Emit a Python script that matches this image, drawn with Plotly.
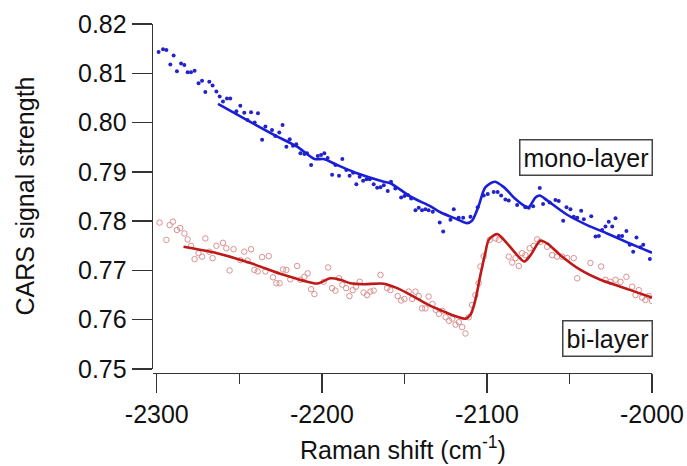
import plotly.graph_objects as go

# ---------------- data ----------------
mono_x = [-2298.9, -2296.2, -2294.2, -2291.8, -2289.8, -2287.8, -2285.3, -2283.3, -2281.3, -2279.3,
          -2277.1, -2274.7, -2272.6, -2270.6, -2268.2, -2266.2, -2263.9, -2261.9, -2259.9, -2257.5,
          -2255.5, -2251.8, -2249.4, -2247.0, -2245.0, -2242.9, -2240.7, -2238.7, -2236.2, -2234.2,
          -2230.2, -2228.2, -2225.8, -2223.8, -2221.5, -2219.5, -2217.5, -2215.5, -2213.0, -2210.6,
          -2209.0, -2206.5, -2202.5, -2200.5, -2198.5, -2196.5, -2193.8, -2191.8, -2189.6, -2187.6,
          -2185.2, -2183.2, -2181.1, -2179.1, -2177.1, -2175.0, -2173.0, -2171.0, -2168.6, -2166.5,
          -2164.5, -2162.5, -2160.1, -2158.1, -2155.5, -2152.0, -2150.0, -2148.0, -2145.9, -2143.3,
          -2141.3, -2139.3, -2137.3, -2135.3, -2132.8, -2128.6, -2126.5, -2122.1, -2120.1, -2117.1,
          -2114.4, -2110.0, -2105.6, -2101.9, -2099.5, -2095.9, -2093.5, -2091.4, -2088.8, -2086.8,
          -2081.7, -2076.7, -2074.7, -2072.0, -2068.0, -2066.0, -2062.0, -2058.5, -2056.5, -2053.8,
          -2051.8, -2049.4, -2047.4, -2045.3, -2042.9, -2041.3, -2036.8, -2034.2, -2032.2, -2030.2,
          -2028.2, -2026.2, -2024.1, -2022.1, -2020.1, -2018.1, -2015.5, -2013.5, -2011.4, -2009.4,
          -2007.0, -2005.3, -2001.3]
mono_y = [0.8143, 0.8149, 0.8147, 0.8118, 0.8136, 0.8104, 0.8120, 0.8117, 0.8102, 0.8102,
          0.8105, 0.8080, 0.8085, 0.8062, 0.8083, 0.8075, 0.8063, 0.8053, 0.8043, 0.8049,
          0.8049, 0.8023, 0.8034, 0.8020, 0.8005, 0.8021, 0.8000, 0.8019, 0.7965, 0.7992,
          0.7985, 0.7973, 0.7980, 0.7995, 0.7951, 0.7966, 0.7953, 0.7956, 0.7938, 0.7936,
          0.7938, 0.7914, 0.7932, 0.7934, 0.7938, 0.7928, 0.7894, 0.7914, 0.7892, 0.7926,
          0.7904, 0.7892, 0.7898, 0.7875, 0.7890, 0.7882, 0.7885, 0.7885, 0.7875, 0.7868,
          0.7869, 0.7873, 0.7861, 0.7880, 0.7866, 0.7848, 0.7851, 0.7853, 0.7846, 0.7822,
          0.7827, 0.7822, 0.7824, 0.7822, 0.7819, 0.7797, 0.7779, 0.7803, 0.7824, 0.7807,
          0.7807, 0.7809, 0.7828, 0.7852, 0.7855, 0.7859, 0.7859, 0.7852, 0.7844, 0.7842,
          0.7833, 0.7828, 0.7827, 0.7830, 0.7867, 0.7835, 0.7838, 0.7843, 0.7841, 0.7801,
          0.7828, 0.7824, 0.7809, 0.7807, 0.7821, 0.7804, 0.7810, 0.7769, 0.7770, 0.7782,
          0.7789, 0.7799, 0.7789, 0.7806, 0.7770, 0.7770, 0.7780, 0.7752, 0.7738, 0.7767,
          0.7747, 0.7752, 0.7723]

mono_fit_x = [-2262.9, -2245.3, -2227.2, -2215.0, -2204.4, -2198.9, -2190.8, -2178.7, -2162.5, -2158.5,
              -2146.4, -2134.2, -2128.2, -2118.1, -2112.0, -2109.0, -2105.0, -2100.9, -2095.3, -2089.8,
              -2082.7, -2076.7, -2074.7, -2070.6, -2068.0, -2063.5, -2051.4, -2039.3, -2027.2, -2015.0,
              -2000.0]
mono_fit_y = [0.8038, 0.8005, 0.7972, 0.7951, 0.7926, 0.7926, 0.7914, 0.7897, 0.7880, 0.7877,
              0.7850, 0.7830, 0.7818, 0.7804, 0.7796, 0.7801, 0.7831, 0.7869, 0.7880, 0.7869,
              0.7845, 0.7830, 0.7828, 0.7848, 0.7852, 0.7842, 0.7813, 0.7792, 0.7775, 0.7757,
              0.7736]

bi_x = [-2298.3, -2294.2, -2292.2, -2290.2, -2287.8, -2285.8, -2283.3, -2281.3, -2279.3, -2277.1,
        -2274.7, -2272.6, -2270.6, -2268.2, -2266.2, -2263.9, -2259.9, -2257.9, -2255.9, -2253.5,
        -2249.4, -2247.0, -2245.0, -2242.9, -2240.9, -2238.9, -2236.2, -2234.2, -2232.2, -2229.6,
        -2227.6, -2225.6, -2223.5, -2221.5, -2219.1, -2215.0, -2213.0, -2210.6, -2208.6, -2206.5,
        -2204.5, -2198.9, -2196.2, -2193.8, -2191.8, -2189.6, -2187.6, -2185.3, -2183.3, -2181.3,
        -2179.3, -2177.1, -2174.7, -2172.6, -2170.6, -2168.6, -2164.5, -2160.5, -2158.5, -2154.1,
        -2152.0, -2150.0, -2147.4, -2145.3, -2143.3, -2141.3, -2139.3, -2137.3, -2135.3, -2133.0,
        -2131.0, -2129.0, -2127.0, -2125.0, -2123.0, -2121.0, -2119.0, -2117.0, -2115.0, -2113.0,
        -2111.0, -2109.0, -2107.0, -2105.0, -2104.0, -2102.0, -2098.3, -2094.8, -2092.8, -2086.8,
        -2084.7, -2082.7, -2080.7, -2078.7, -2076.7, -2074.1, -2071.6, -2069.6, -2067.6, -2063.5,
        -2060.5, -2057.5, -2054.4, -2051.4, -2047.4, -2045.3, -2037.3, -2030.8, -2028.2, -2025.2,
        -2022.1, -2019.1, -2015.5, -2012.0, -2010.0, -2008.0, -2006.0, -2004.0, -2002.0, -2000.0]
bi_y = [0.7797, 0.7762, 0.7792, 0.7799, 0.7782, 0.7786, 0.7775, 0.7763, 0.7750, 0.7723,
        0.7735, 0.7728, 0.7765, 0.7738, 0.7725, 0.7750, 0.7756, 0.7745, 0.7700, 0.7743,
        0.7721, 0.7738, 0.7720, 0.7743, 0.7701, 0.7698, 0.7727, 0.7698, 0.7729, 0.7686,
        0.7674, 0.7674, 0.7702, 0.7701, 0.7682, 0.7709, 0.7681, 0.7687, 0.7694, 0.7662,
        0.7652, 0.7677, 0.7706, 0.7664, 0.7659, 0.7684, 0.7671, 0.7664, 0.7648, 0.7660,
        0.7667, 0.7677, 0.7655, 0.7650, 0.7657, 0.7659, 0.7691, 0.7664, 0.7660, 0.7648,
        0.7639, 0.7642, 0.7657, 0.7642, 0.7657, 0.7648, 0.7623, 0.7623, 0.7647, 0.7632,
        0.7620, 0.7612, 0.7618, 0.7605, 0.7598, 0.7602, 0.7590, 0.7595, 0.7585, 0.7572,
        0.7605, 0.7630, 0.7650, 0.7674, 0.7708, 0.7729, 0.7762, 0.7765, 0.7762, 0.7728,
        0.7716, 0.7725, 0.7709, 0.7735, 0.7731, 0.7745, 0.7750, 0.7763, 0.7758, 0.7748,
        0.7731, 0.7728, 0.7728, 0.7725, 0.7725, 0.7684, 0.7715, 0.7708, 0.7681, 0.7677,
        0.7681, 0.7677, 0.7687, 0.7667, 0.7650, 0.7660, 0.7645, 0.7640, 0.7648, 0.7638]

bi_fit_x = [-2283.8, -2263.5, -2243.3, -2223.2, -2205.0, -2201.9, -2194.8, -2188.8, -2182.7, -2174.7,
            -2162.5, -2154.4, -2144.4, -2134.2, -2125.0, -2118.0, -2113.0, -2110.0, -2107.0, -2104.0,
            -2101.0, -2098.9, -2093.8, -2087.8, -2081.7, -2077.3, -2073.6, -2067.6, -2063.5, -2055.5,
            -2043.3, -2031.2, -2019.1, -2013.0, -2000.0]
bi_fit_y = [0.7748, 0.7735, 0.7715, 0.7691, 0.7674, 0.7674, 0.7684, 0.7681, 0.7674, 0.7672,
            0.7673, 0.7664, 0.7647, 0.7628, 0.7615, 0.7606, 0.7602, 0.7610, 0.7640, 0.7690,
            0.7735, 0.7762, 0.7774, 0.7755, 0.7731, 0.7718, 0.7731, 0.7760, 0.7755, 0.7731,
            0.7701, 0.7681, 0.7667, 0.7660, 0.7645]

y_tick_vals = [0.75, 0.76, 0.77, 0.78, 0.79, 0.80, 0.81, 0.82]
x_tick_vals = [-2300, -2200, -2100, -2000]

# ---------------- figure ----------------
FONT = "Liberation Sans, Arial, sans-serif"
AX = "#333333"
TXT = "#111111"

fig = go.Figure()
fig.add_trace(go.Scatter(x=mono_x, y=mono_y, mode="markers",
                         marker=dict(size=4, color="rgb(35,35,200)"), hoverinfo="skip"))
fig.add_trace(go.Scatter(x=bi_x, y=bi_y, mode="markers",
                         marker=dict(symbol="circle-open", size=5.5, color="rgb(218,145,145)",
                                     line=dict(width=1)),
                         hoverinfo="skip"))
fig.add_trace(go.Scatter(x=mono_fit_x, y=mono_fit_y, mode="lines",
                         line=dict(color="rgb(25,30,215)", width=2.6, shape="spline", smoothing=0.8),
                         hoverinfo="skip"))
fig.add_trace(go.Scatter(x=bi_fit_x, y=bi_fit_y, mode="lines",
                         line=dict(color="rgb(190,25,25)", width=2.6, shape="spline", smoothing=0.8),
                         hoverinfo="skip"))

plot_h = 466 - 24 - 93
fig.update_layout(
    width=687, height=466,
    margin=dict(l=153, r=35, t=24, b=93),
    paper_bgcolor="white", plot_bgcolor="white",
    showlegend=False,
    template="none",
    hovermode=False,
    font=dict(family=FONT, size=25, color=TXT),
    xaxis=dict(range=[-2302.3, -2000], tickvals=x_tick_vals, ticktext=[str(v) for v in x_tick_vals],
               ticks="outside", ticklen=19, tickwidth=1.3, tickcolor=AX,
               minor=dict(dtick=50, tick0=-2300, ticks="outside", ticklen=10, tickwidth=1.3, tickcolor=AX),
               showline=True, linecolor=AX, linewidth=1.3, showgrid=False, zeroline=False,
               anchor="free", position=0, automargin=False,
               tickfont=dict(family=FONT, size=25, color=TXT)),
    yaxis=dict(range=[0.75, 0.82], tickvals=y_tick_vals, ticktext=["%.2f" % v for v in y_tick_vals],
               domain=[4.0 / plot_h, 1],
               ticks="outside", ticklen=20, tickwidth=1.3, tickcolor=AX,
               showline=True, linecolor=AX, linewidth=1.3, showgrid=False, zeroline=False,
               automargin=False,
               tickfont=dict(family=FONT, size=25, color=TXT)),
)

# axis titles
fig.add_annotation(text="CARS signal strength", xref="paper", yref="paper",
                   x=0, y=0.5 + 2.0 / plot_h, xanchor="center", yanchor="middle",
                   xshift=-129, textangle=-90, showarrow=False,
                   font=dict(family=FONT, size=25, color=TXT))
fig.add_annotation(text="Raman shift (cm<sup>-1</sup>)", xref="paper", yref="paper",
                   x=0.5, y=0, xanchor="center", yanchor="bottom",
                   yshift=-93, showarrow=False,
                   font=dict(family=FONT, size=25, color=TXT))

# series labels
fig.add_annotation(text="mono-layer", x=-2039.7, y=0.7929, xref="x", yref="y",
                   showarrow=False, bgcolor="white", bordercolor="#444444", borderwidth=1.5,
                   borderpad=3, font=dict(family=FONT, size=25, color=TXT))
fig.add_annotation(text="bi-layer", x=-2026.7, y=0.7562, xref="x", yref="y",
                   showarrow=False, bgcolor="white", bordercolor="#444444", borderwidth=1.5,
                   borderpad=3, font=dict(family=FONT, size=25, color=TXT))

fig.write_html("out.html",
               config={"displayModeBar": False, "staticPlot": True},
               post_script="document.body.style.margin='0';document.body.style.overflow='hidden';")
